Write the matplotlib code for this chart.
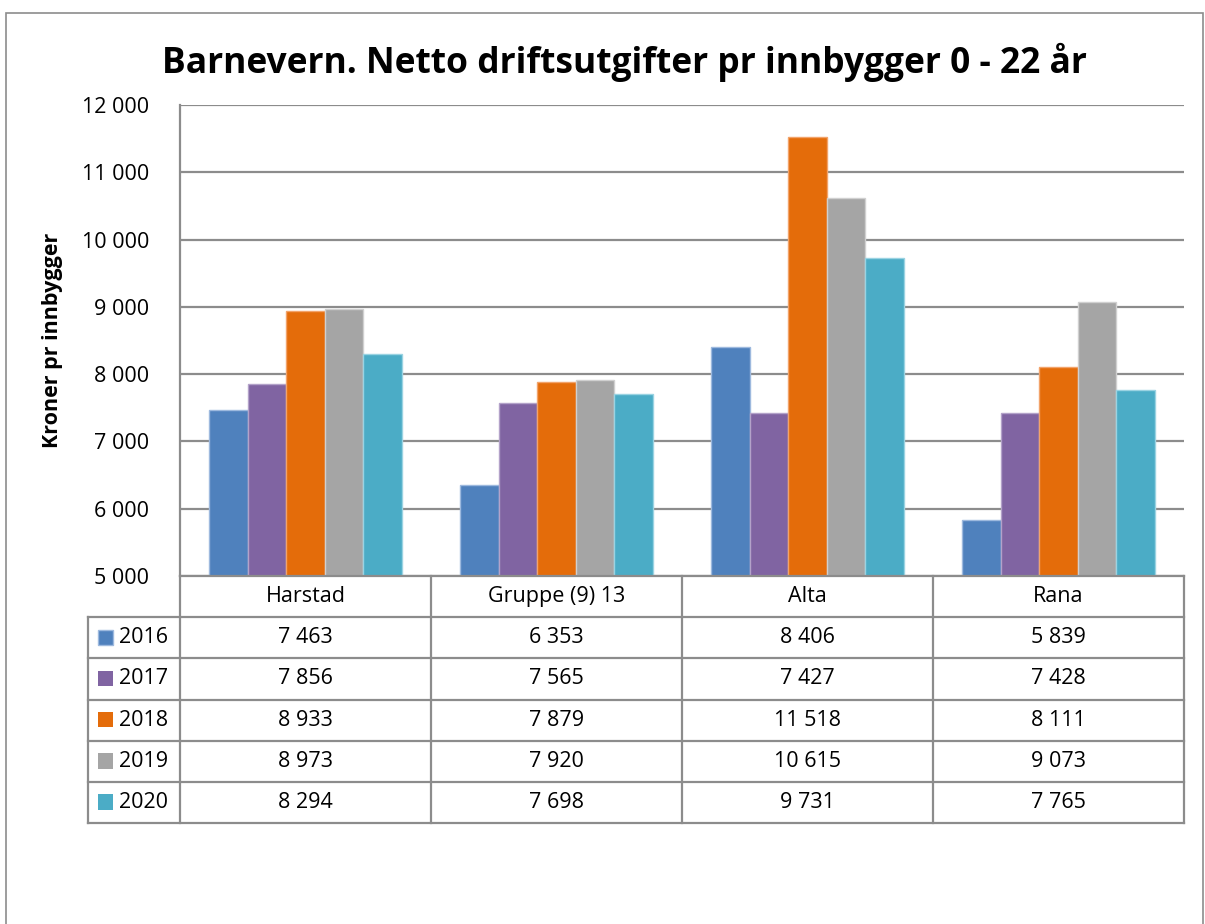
import numpy as np
import matplotlib.pyplot as plt
from matplotlib.patches import Rectangle

plt.rcParams['font.family'] = ['Open Sans', 'DejaVu Sans']

kommuner = ['Harstad', 'Gruppe (9) 13', 'Alta', 'Rana']
aar = ['2016', '2017', '2018', '2019', '2020']
utgifter = {
    '2016': [7463, 6353, 8406, 5839],
    '2017': [7856, 7565, 7427, 7428],
    '2018': [8933, 7879, 11518, 8111],
    '2019': [8973, 7920, 10615, 9073],
    '2020': [8294, 7698, 9731, 7765],
}
farger = ['#4F81BD', '#8064A2', '#E46C0A', '#A5A5A5', '#4BACC6']
kanter = ['#9DB9DE', '#B3A2C9', '#F2A36A', '#D0D0D0', '#9AD3E2']


def fmt(v):
    return f'{v:,}'.replace(',', ' ')


W, H = 1205, 924
fig = plt.figure(figsize=(W / 100, H / 100), dpi=100)

# ramme rundt hele diagrammet
fig.patches.append(Rectangle((6 / W, -0.1), (W - 8) / W, 1.1 - 13 / H,
                             transform=fig.transFigure, fill=False,
                             edgecolor='#8C8C8C', lw=1.2))

ax = fig.add_axes([180 / W, 1 - 576 / H, (1184 - 180) / W, (576 - 105) / H])
ax.set_xlim(0, 4)
ax.set_ylim(5000, 12000)

bw = 0.154
x = np.arange(len(kommuner)) + 0.5
for j, a in enumerate(aar):
    ax.bar(x + (j - 2) * bw, utgifter[a], width=bw, bottom=0,
           color=farger[j], edgecolor=kanter[j], linewidth=1.0, zorder=3)

ax.set_yticks(range(5000, 12001, 1000))
ax.set_yticklabels([fmt(v) for v in range(5000, 12001, 1000)], fontsize=15.5)
ax.tick_params(axis='y', length=0, pad=22)
ax.set_xticks([])
ax.grid(axis='y', color='#8C8C8C', lw=1.6, zorder=1)
for s in ['top', 'right', 'bottom']:
    ax.spines[s].set_visible(False)
ax.spines['left'].set_color('#8C8C8C')
ax.spines['left'].set_linewidth(1.6)
ax.set_ylabel('Kroner pr innbygger', fontsize=15.5, fontweight='bold', labelpad=14)

fig.text(0.518, 1 - 62 / H, 'Barnevern. Netto driftsutgifter pr innbygger 0 - 22 år',
         ha='center', va='center', fontsize=25.5, fontweight='bold')

# datatabell under diagrammet
leg_w = (180 - 88) / 251
tab = fig.add_axes([88 / W, 1 - 823 / H, (1184 - 88) / W, (823 - 576) / H])
tab.set_xlim(-leg_w, 4)
tab.set_ylim(6, 0)
tab.axis('off')
lc = '#8C8C8C'
lw = 1.6
# horisontale linjer
tab.plot([0, 4], [0, 0], color=lc, lw=lw, clip_on=False)
for r in range(1, 7):
    tab.plot([-leg_w, 4], [r, r], color=lc, lw=lw, clip_on=False)
# vertikale linjer
tab.plot([-leg_w, -leg_w], [1, 6], color=lc, lw=lw, clip_on=False)
for c in range(5):
    tab.plot([c, c], [0, 6], color=lc, lw=lw, clip_on=False)

for i, k in enumerate(kommuner):
    tab.text(i + 0.5, 0.5, k, ha='center', va='center', fontsize=15.5)
for j, a in enumerate(aar):
    y = j + 1.5
    tab.add_patch(Rectangle((-leg_w + 0.04, y - 0.2), 0.058, 0.38,
                            facecolor=farger[j],
                            edgecolor=kanter[j] if j == 0 else 'none',
                            lw=1.0, clip_on=False))
    tab.text(-leg_w + 0.122, y, a, ha='left', va='center', fontsize=15.5)
    for i in range(len(kommuner)):
        tab.text(i + 0.5, y, fmt(utgifter[a][i]), ha='center', va='center',
                 fontsize=15.5)

fig.savefig('out.png', dpi=100)
